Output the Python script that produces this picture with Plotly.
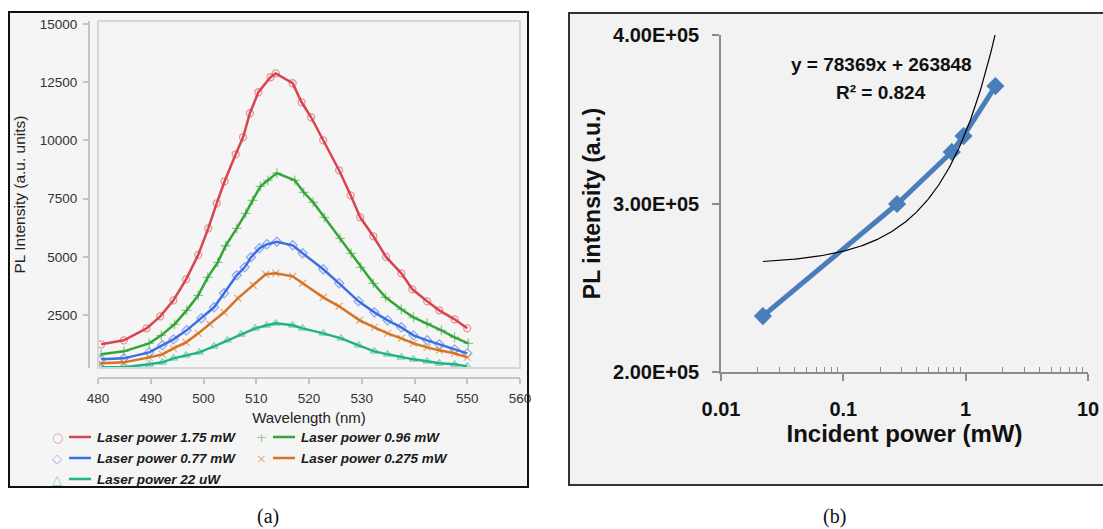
import numpy as np
import plotly.graph_objects as go

W, H = 1103, 529

# ---------------- (a) PL spectra at several laser powers ----------------
wl_175 = [480.6, 484.9, 489.2, 491.8, 494.3, 496.7, 499.0, 500.9, 502.5, 504.0, 506.1,
          507.5, 508.8, 510.4, 512.7, 513.7, 516.9, 518.6, 520.4, 522.7, 525.7, 527.9,
          529.7, 532.2, 534.6, 537.5, 539.6, 542.4, 544.7, 547.6, 550.0]
pl_175 = [1246, 1418, 1933, 2448, 3136, 4038, 5090, 6228, 7302, 8247, 9407,
          10137, 11168, 12070, 12715, 12880, 12457, 11640, 10996, 10008, 8720, 7646,
          6700, 5885, 5000, 4296, 3608, 3093, 2706, 2320, 1933]

wl_096 = [480.6, 484.9, 489.7, 492.0, 494.5, 496.8, 499.0, 500.8, 502.7, 504.2, 506.3,
          508.0, 509.3, 510.8, 512.2, 513.9, 517.3, 519.0, 520.8, 522.9, 525.9, 528.0,
          529.8, 532.2, 534.5, 537.5, 539.8, 542.4, 545.1, 547.6, 550.2]
pl_096 = [816, 945, 1289, 1632, 2105, 2706, 3350, 4124, 4768, 5480, 6228,
          6873, 7431, 8033, 8290, 8600, 8290, 7775, 7345, 6700, 5800, 5150,
          4550, 3866, 3265, 2750, 2406, 2148, 1847, 1546, 1289]

wl_077 = [480.6, 484.9, 489.7, 492.2, 494.3, 496.8, 499.6, 502.0, 503.9, 506.3, 507.8,
          509.0, 510.6, 512.0, 513.9, 516.9, 518.8, 522.7, 525.7, 529.4, 532.4, 534.9,
          537.5, 539.8, 542.4, 544.7, 547.6, 550.0]
pl_077 = [601, 644, 902, 1203, 1460, 1847, 2363, 2835, 3436, 4210, 4553,
          4983, 5370, 5541, 5650, 5498, 5155, 4467, 3866, 3093, 2620, 2277,
          1976, 1632, 1418, 1246, 1031, 859]

wl_0275 = [480.6, 484.9, 489.7, 492.2, 494.3, 496.7, 499.0, 501.2, 503.9, 506.5, 509.4,
           511.8, 513.7, 516.9, 518.8, 522.7, 525.7, 529.6, 532.4, 534.9, 537.5, 539.8,
           542.4, 544.7, 547.6, 550.0]
pl_0275 = [429, 472, 687, 816, 1074, 1332, 1718, 2105, 2620, 3222, 3780,
           4253, 4296, 4167, 3866, 3265, 2878, 2277, 1976, 1718, 1503, 1289,
           1117, 988, 859, 687]

wl_22u = [480.6, 484.9, 489.7, 492.2, 494.3, 496.7, 499.2, 502.0, 504.5, 507.1, 509.8,
          512.0, 513.7, 516.9, 518.8, 522.7, 526.1, 529.4, 532.4, 534.9, 537.5, 539.8,
          542.4, 544.7, 547.6, 550.0]
pl_22u = [258, 258, 387, 472, 644, 773, 902, 1160, 1418, 1675, 1933,
          2062, 2148, 2062, 1933, 1718, 1503, 1200, 945, 816, 687, 601,
          515, 430, 387, 300]

series_names = ["Laser power 1.75 mW", "Laser power 0.96 mW", "Laser power 0.77 mW",
                "Laser power 0.275 mW", "Laser power 22 uW"]
series_x = [wl_175, wl_096, wl_077, wl_0275, wl_22u]
series_y = [pl_175, pl_096, pl_077, pl_0275, pl_22u]
line_colors = ["#d8444f", "#34a636", "#3b6fe3", "#d67324", "#22b287"]
marker_colors = ["rgba(216,68,79,0.55)", "rgba(52,166,54,0.55)", "rgba(59,111,227,0.55)",
                 "rgba(214,115,36,0.55)", "rgba(34,178,135,0.55)"]
marker_symbols = ["circle-open", "cross-thin-open", "diamond-open", "x-thin-open",
                  "triangle-up-open"]
legend_glyphs = ["○", "+", "◇", "×", "△"]

wl_ticks = [480, 490, 500, 510, 520, 530, 540, 550, 560]
pl_ticks = [2500, 5000, 7500, 10000, 12500, 15000]

# ---------------- (b) integrated PL vs incident power ----------------
power_mw = [0.022, 0.275, 0.77, 0.96, 1.75]
pl_total = [233200, 299700, 330600, 340000, 369700]
fit_slope = 78369
fit_intercept = 263848
fit_r2 = 0.824
b_xticks = [0.01, 0.1, 1, 10]
b_xtick_text = ["0.01", "0.1", "1", "10"]
b_yticks = [200000, 300000, 400000]
b_ytick_text = ["2.00E+05", "3.00E+05", "4.00E+05"]


def px(x):
    return x / W


def py(y):
    return 1 - y / H


fig = go.Figure()

for name, xs, ys, lc, mc, sym in zip(series_names, series_x, series_y,
                                     line_colors, marker_colors, marker_symbols):
    fig.add_trace(go.Scatter(
        x=xs, y=ys, name=name, mode="lines+markers",
        line=dict(color=lc, width=2.5),
        marker=dict(symbol=sym, size=7, color=mc, line=dict(color=mc, width=1.3)),
        xaxis="x", yaxis="y", showlegend=False,
    ))

fig.add_trace(go.Scatter(
    x=power_mw, y=pl_total, mode="lines+markers",
    line=dict(color="#4a7ebb", width=5),
    marker=dict(symbol="diamond", size=14, color="#4a7ebb"),
    xaxis="x2", yaxis="y2", showlegend=False,
))

fit_x = np.logspace(np.log10(min(power_mw)), np.log10(max(power_mw)), 200)
fit_y = fit_slope * fit_x + fit_intercept
fig.add_trace(go.Scatter(
    x=fit_x, y=fit_y, mode="lines",
    line=dict(color="black", width=1.2),
    xaxis="x2", yaxis="y2", showlegend=False,
))

# plot-area extents in pixels
a_l, a_r, a_t, a_b = 98, 520, 21, 368
b_l, b_r, b_t, b_b = 721, 1088, 35, 372

axis_a_font = dict(family="Liberation Sans, Arial, sans-serif", size=13.5, color="#333333")
bold_font = dict(family="Liberation Sans, Arial, sans-serif", size=20, color="#111111",
                 weight="bold")

minor_vals = [k * 10.0 ** e for e in (-2, -1, 0) for k in range(2, 10)]

fig.update_layout(
    width=W, height=H,
    margin=dict(l=0, r=0, t=0, b=0, pad=0, autoexpand=False),
    paper_bgcolor="white", plot_bgcolor="white",
    xaxis=dict(
        domain=[px(a_l), px(a_r)], range=[480, 560], anchor="free", position=py(378),
        tickmode="array", tickvals=wl_ticks, showline=True, linecolor="#c4c4c4",
        linewidth=2, ticks="outside", ticklen=5, tickcolor="#c4c4c4", tickwidth=1.5,
        showgrid=False, zeroline=False, tickfont=axis_a_font, ticklabelstandoff=3,
        automargin=False,
        title=dict(text="Wavelength (nm)", font=dict(family=axis_a_font["family"],
                   size=15, color="#222222"), standoff=6),
    ),
    yaxis=dict(
        domain=[py(a_b), py(a_t)], range=[230, 15130], anchor="free", position=px(89),
        tickmode="array", tickvals=pl_ticks, ticktext=[str(v) for v in pl_ticks],
        showline=True, linecolor="#c4c4c4",
        linewidth=2, ticks="outside", ticklen=5, tickcolor="#c4c4c4", tickwidth=1.5,
        showgrid=False, zeroline=False, tickfont=axis_a_font, ticklabelstandoff=3,
        automargin=False,
        title=dict(text="PL Intensity (a.u. units)", font=dict(family=axis_a_font["family"],
                   size=15.5, color="#222222"), standoff=9),
    ),
    xaxis2=dict(
        domain=[px(b_l), px(b_r)], type="log", range=[-2, 1], anchor="y2",
        tickmode="array", tickvals=b_xticks, ticktext=b_xtick_text,
        showline=True, linecolor="#8c8c8c", linewidth=1.5,
        ticks="outside", ticklen=7, tickcolor="#8c8c8c", tickwidth=1.5,
        minor=dict(tickmode="array", tickvals=minor_vals, ticks="inside", ticklen=5,
                   tickcolor="#8c8c8c", tickwidth=1.2, showgrid=False),
        showgrid=False, zeroline=False, tickfont=bold_font, ticklabelstandoff=11,
        automargin=False,
        title=dict(text="Incident power (mW)", font=dict(family=bold_font["family"],
                   size=24, color="#111111", weight="bold"), standoff=6),
    ),
    yaxis2=dict(
        domain=[py(b_b), py(b_t)], range=[200000, 400000], anchor="x2",
        tickmode="array", tickvals=b_yticks, ticktext=b_ytick_text,
        showline=True, linecolor="#8c8c8c", linewidth=1.5,
        ticks="outside", ticklen=7, tickcolor="#8c8c8c", tickwidth=1.5,
        showgrid=False, zeroline=False, tickfont=bold_font, ticklabelstandoff=9,
        automargin=False,
        title=dict(text="PL intensity (a.u.)", font=dict(family=bold_font["family"],
                   size=23, color="#111111", weight="bold"), standoff=6),
    ),
)

shapes = [
    # panel backgrounds and frames
    dict(type="rect", xref="paper", yref="paper", x0=px(9), x1=px(528), y0=py(487), y1=py(12),
         fillcolor="#f5f5f5", line=dict(color="#111111", width=2), layer="below"),
    dict(type="rect", xref="paper", yref="paper", x0=px(569), x1=px(1120), y0=py(485), y1=py(13),
         fillcolor="#f2f2f2", line=dict(color="#333333", width=2), layer="below"),
    # light frame around the spectra plotting area
    dict(type="rect", xref="paper", yref="paper", x0=px(a_l), x1=px(a_r), y0=py(a_b), y1=py(a_t),
         line=dict(color="#d6d6d6", width=2), layer="above"),
]

annotations = []
# manual legend for panel (a): marker glyph, line sample, label
legend_pos = [(57, 437), (261, 437), (57, 458), (261, 458), (57, 479)]
for (lx, ly), name, lc, mc, glyph in zip(legend_pos, series_names, line_colors,
                                         marker_colors, legend_glyphs):
    annotations.append(dict(xref="paper", yref="paper", x=px(lx), y=py(ly), text=glyph,
                            showarrow=False, xanchor="center", yanchor="middle",
                            font=dict(family="DejaVu Sans", size=13, color=mc)))
    shapes.append(dict(type="line", xref="paper", yref="paper", x0=px(lx + 12), x1=px(lx + 34),
                       y0=py(ly), y1=py(ly), line=dict(color=lc, width=2.5)))
    annotations.append(dict(xref="paper", yref="paper", x=px(lx + 38), y=py(ly),
                            text="<b><i>" + name + "</i></b>", showarrow=False,
                            xanchor="left", yanchor="middle",
                            font=dict(family="Liberation Sans, Arial, sans-serif", size=13.5,
                                      color="#1a1a1a")))

# trendline equation for panel (b)
annotations.append(dict(xref="paper", yref="paper", x=px(881), y=py(65),
                        text=f"<b>y = {fit_slope}x + {fit_intercept}</b>", showarrow=False,
                        xanchor="center", yanchor="middle",
                        font=dict(family="Liberation Sans, Arial, sans-serif", size=19,
                                  color="#111111")))
annotations.append(dict(xref="paper", yref="paper", x=px(881), y=py(92),
                        text=f"<b>R² = {fit_r2}</b>", showarrow=False,
                        xanchor="center", yanchor="middle",
                        font=dict(family="Liberation Sans, Arial, sans-serif", size=19,
                                  color="#111111")))

# panel captions
for cx, label in [(268, "(a)"), (834, "(b)")]:
    annotations.append(dict(xref="paper", yref="paper", x=px(cx), y=py(516), text=label,
                            showarrow=False, xanchor="center", yanchor="middle",
                            font=dict(family="Liberation Serif, Times New Roman, serif",
                                      size=20, color="#111111")))

fig.update_layout(shapes=shapes, annotations=annotations)

fig.write_html("out.html")
